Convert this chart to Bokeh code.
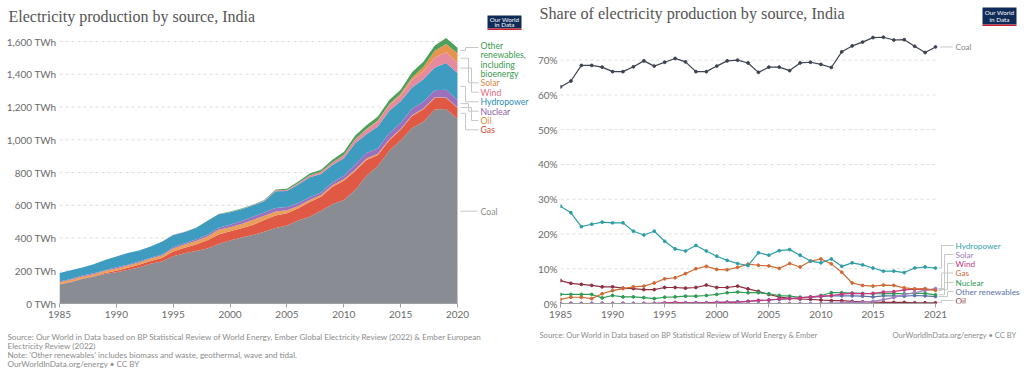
from bokeh.plotting import figure
from bokeh.models import (Range1d, FixedTicker, Label, LabelSet, Arrow,
                          ColumnDataSource, BoxAnnotation)
from bokeh.layouts import row, column
from bokeh.embed import file_html
from bokeh.resources import INLINE
from bokeh.core.properties import value

SANS = "Lato"
SERIF = "Liberation Serif"

# ---------------- Left chart data: electricity production (TWh) ----------------
years_left = list(range(1985, 2021))
coal_twh = [115.3, 129.3, 149.3, 163.0, 179.5, 190.1, 204.8, 220.6, 242.9, 256.1,
            288.0, 307.4, 321.1, 335.5, 362.8, 385.2, 403.4, 417.9, 438.0, 461.5,
            476.0, 506.6, 529.3, 566.1, 605.9, 631.6, 692.6, 779.7, 840.3, 932.5,
            995.3, 1071.6, 1109.7, 1184.0, 1187.7, 1127.8]
gas_twh = [2.2, 3.6, 3.9, 3.3, 7.4, 10.5, 13.2, 15.6, 17.4, 22.1,
           29.5, 32.3, 39.7, 50.3, 58.2, 55.3, 56.1, 62.1, 71.5, 76.3,
           75.6, 75.2, 90.9, 85.9, 106.5, 117.5, 116.3, 96.9, 66.9, 64.5,
           65.1, 74.1, 76.1, 70.2, 67.4, 67.2]
oil_twh = [12.2, 11.7, 12.0, 12.4, 12.7, 13.7, 13.5, 13.9, 13.9, 15.0,
           19.1, 20.1, 20.3, 23.1, 28.8, 25.9, 26.6, 29.9, 26.6, 24.3,
           18.2, 14.2, 11.9, 10.6, 10.5, 9.2, 8.2, 8.6, 6.8, 6.2,
           5.2, 4.2, 4.4, 4.7, 3.2, 3.1]
nuclear_twh = [4.8, 5.3, 5.7, 6.2, 4.2, 6.6, 5.8, 6.2, 5.9, 5.3,
               7.5, 8.3, 9.7, 10.6, 12.5, 14.7, 17.9, 19.7, 19.6, 21.5,
               19.6, 17.1, 16.6, 14.7, 15.7, 21.1, 31.6, 33.4, 34.0, 36.0,
               36.4, 39.2, 42.5, 43.7, 46.5, 45.3]
hydro_twh = [51.8, 52.7, 48.2, 54.3, 61.8, 66.1, 71.2, 67.4, 68.6, 78.0,
             74.3, 68.5, 69.8, 84.0, 82.1, 76.7, 71.7, 68.7, 69.0, 101.3,
             97.3, 113.2, 122.5, 113.7, 106.5, 107.4, 130.6, 115.2, 132.7, 137.6,
             132.7, 130.1, 136.2, 138.8, 163.7, 164.0]
wind_twh = [0, 0, 0, 0, 0, 0, 0, 0, 0.1, 0.2,
            0.8, 1.3, 0.9, 1.0, 1.1, 1.7, 1.7, 1.8, 3.8, 6.2,
            7.0, 9.7, 11.1, 13.1, 16.6, 19.3, 23.5, 29.1, 32.9, 34.7,
            37.7, 46.2, 49.8, 60.8, 65.8, 60.9]
solar_twh = [0, 0, 0, 0, 0, 0, 0, 0, 0, 0,
             0, 0, 0, 0, 0, 0, 0, 0, 0, 0,
             0, 0, 0, 0, 0, 0.1, 1.0, 2.2, 3.4, 5.0,
             7.8, 15.4, 24.9, 40.6, 49.8, 59.4]
other_twh = [0, 0, 0, 0, 0, 0, 0, 0, 0, 0,
             0.4, 0.4, 0.7, 1.0, 1.1, 1.7, 2.3, 3.0, 3.8, 5.6,
             7.0, 8.9, 11.1, 13.1, 15.7, 18.4, 22.4, 23.7, 24.9, 26.0,
             24.7, 30.8, 32.2, 32.8, 36.9, 34.4]
left_names = ["Coal", "Gas", "Oil", "Nuclear", "Hydropower", "Wind", "Solar", "Other renewables"]
left_values = [coal_twh, gas_twh, oil_twh, nuclear_twh, hydro_twh, wind_twh, solar_twh, other_twh]
left_colors = ["#8a8c93", "#df5944", "#e8a05a", "#9b70bd", "#3e9cc1", "#e68b9d", "#e8944f", "#4ea05d"]
left_text_colors = {"Coal": "#8a8a8a", "Gas": "#d8462f", "Oil": "#d98a3c", "Nuclear": "#8a5aa9",
                    "Hydropower": "#2c8db4", "Wind": "#e06a82", "Solar": "#d9873c",
                    "Other renewables": "#3a9a4e"}
left_yticks = [0, 200, 400, 600, 800, 1000, 1200, 1400, 1600]
left_ytick_labels = ["0 TWh", "200 TWh", "400 TWh", "600 TWh", "800 TWh",
                     "1,000 TWh", "1,200 TWh", "1,400 TWh", "1,600 TWh"]
left_xticks = [1985, 1990, 1995, 2000, 2005, 2010, 2015, 2020]

# ---------------- Right chart data: share of electricity production (%) ----------------
years_right = list(range(1985, 2022))
coal_pct = [62.3, 64.0, 68.5, 68.5, 68.0, 66.7, 66.7, 68.1, 69.8, 68.3,
            69.4, 70.5, 69.5, 66.7, 66.7, 68.3, 69.8, 70.0, 69.2, 66.5,
            68.0, 68.0, 67.0, 69.2, 69.4, 68.8, 67.9, 72.4, 74.1, 75.2,
            76.5, 76.6, 75.8, 75.9, 74.0, 72.2, 73.8]
hydro_pct = [28.0, 26.1, 22.1, 22.8, 23.4, 23.2, 23.2, 20.8, 19.7, 20.8,
             17.9, 15.7, 15.1, 16.7, 15.1, 13.6, 12.4, 11.5, 10.9, 14.6,
             13.9, 15.2, 15.5, 13.9, 12.2, 11.7, 12.8, 10.7, 11.7, 11.1,
             10.2, 9.3, 9.3, 8.9, 10.2, 10.5, 10.2]
gas_pct = [1.2, 1.8, 1.8, 1.4, 2.8, 3.7, 4.3, 4.8, 5.0, 5.9,
           7.1, 7.4, 8.6, 10.0, 10.7, 9.8, 9.7, 10.4, 11.3, 11.0,
           10.8, 10.1, 11.5, 10.5, 12.2, 12.8, 11.4, 9.0, 5.9, 5.2,
           5.0, 5.3, 5.2, 4.5, 4.2, 4.3, 3.8]
oil_pct = [6.6, 5.8, 5.5, 5.2, 4.8, 4.8, 4.4, 4.3, 4.0, 4.0,
           4.6, 4.6, 4.4, 4.6, 5.3, 4.6, 4.6, 5.0, 4.2, 3.5,
           2.6, 1.9, 1.5, 1.3, 1.2, 1.0, 0.8, 0.8, 0.6, 0.5,
           0.4, 0.3, 0.3, 0.3, 0.2, 0.2, 0.2]
nuclear_pct = [2.6, 2.6, 2.6, 2.6, 1.6, 2.3, 1.9, 1.9, 1.7, 1.4,
               1.8, 1.9, 2.1, 2.1, 2.3, 2.6, 3.1, 3.3, 3.1, 3.1,
               2.8, 2.3, 2.1, 1.8, 1.8, 2.3, 3.1, 3.1, 3.0, 2.9,
               2.8, 2.8, 2.9, 2.8, 2.9, 2.9, 2.5]
wind_pct = [0, 0, 0, 0, 0, 0, 0, 0, 0.02, 0.05,
            0.2, 0.3, 0.2, 0.2, 0.2, 0.3, 0.3, 0.3, 0.6, 0.9,
            1.0, 1.3, 1.4, 1.6, 1.9, 2.1, 2.3, 2.7, 2.9, 2.8,
            2.9, 3.3, 3.4, 3.9, 4.1, 3.9, 4.0]
solar_pct = [0, 0, 0, 0, 0, 0, 0, 0, 0, 0,
             0, 0, 0, 0, 0, 0, 0, 0, 0, 0,
             0, 0, 0, 0, 0, 0.01, 0.1, 0.2, 0.3, 0.4,
             0.6, 1.1, 1.7, 2.6, 3.1, 3.8, 4.3]
other_pct = [0, 0, 0, 0, 0, 0, 0, 0, 0, 0,
             0.1, 0.1, 0.15, 0.2, 0.2, 0.3, 0.4, 0.5, 0.6, 0.8,
             1.0, 1.2, 1.4, 1.6, 1.8, 2.0, 2.2, 2.2, 2.2, 2.1,
             1.9, 2.2, 2.2, 2.1, 2.3, 2.2, 2.0]
right_names = ["Oil", "Other renewables", "Nuclear", "Wind", "Solar", "Gas", "Hydropower", "Coal"]
right_values = [oil_pct, other_pct, nuclear_pct, wind_pct, solar_pct, gas_pct, hydro_pct, coal_pct]
right_colors = {"Coal": "#3d4352", "Hydropower": "#2e9fa6", "Solar": "#a07cc2", "Wind": "#c9357f",
                "Gas": "#d06b35", "Nuclear": "#2f9c56", "Other renewables": "#5b73a8", "Oil": "#8e3042"}
right_yticks = [0, 10, 20, 30, 40, 50, 60, 70]
right_ytick_labels = ["0%", "10%", "20%", "30%", "40%", "50%", "60%", "70%"]
right_xticks = [1985, 1990, 1995, 2000, 2005, 2010, 2015, 2021]

# ---------------- layout geometry (page pixels; Bokeh's page has no body margin) ----------------
PAGE = 0
TOTAL_W = 1024
HEAD_B = 33          # bottom of header strip / top of plot frames
FOOT_T = 326         # top of footer strip
PAGE_B = 377
L_W = 530
R_LEFT = PAGE + L_W
R_W = TOTAL_W - L_W
L_FL, L_DR, L_FB = 59, 457, 303
L_PXU = 262.0 / 1600          # px per TWh
L_PXY = (L_DR - L_FL) / (years_left[-1] - years_left[0])
R_FL, R_DR, R_FB = 560, 935, 303
R_PXU = 3.476                 # px per percentage point
R_PXY = (R_DR - R_FL) / (years_right[-1] - years_right[0])


def lx(a):
    return years_left[0] + (a - L_FL) / L_PXY


def ly(a):
    return (L_FB - a) / L_PXU


def rx(a):
    return years_right[0] + (a - R_FL) / R_PXY


def ry(a):
    return (R_FB - a) / R_PXU


def style_axes(p, xticks, yticks, ylabels, xb):
    p.outline_line_color = None
    p.background_fill_color = "white"
    p.border_fill_color = "white"
    p.grid.grid_line_color = None
    p.xaxis.ticker = FixedTicker(ticks=xticks)
    p.xaxis.bounds = xb
    p.yaxis.ticker = FixedTicker(ticks=yticks)
    p.yaxis.major_label_overrides = dict(zip(yticks, ylabels))
    p.yaxis.axis_line_color = None
    p.yaxis.major_tick_line_color = None
    p.yaxis.minor_tick_line_color = None
    p.yaxis.major_tick_out = 0
    p.yaxis.major_tick_in = 0
    p.yaxis.minor_tick_out = 0
    p.yaxis.major_label_standoff = 3
    p.xaxis.axis_line_color = "#a0a0a0"
    p.xaxis.major_tick_line_color = "#a0a0a0"
    p.xaxis.major_tick_out = 4
    p.xaxis.major_tick_in = 0
    p.xaxis.minor_tick_out = 0
    p.xaxis.minor_tick_line_color = None
    p.xaxis.major_label_standoff = 3
    for ax in (p.xaxis[0], p.yaxis[0]):
        ax.major_label_text_font = SANS
        ax.major_label_text_font_size = "10px"
        ax.major_label_text_color = "#6b6b6b"
    n = len(yticks)
    p.segment(x0=[xb[0]] * n, y0=yticks, x1=[xb[1]] * n, y1=yticks,
              line_color="#dddddd", line_dash="3 3", line_width=1)


def add_text(p, x, y, text, size, color, font=SANS, align="left"):
    p.add_layout(Label(x=x, y=y, text=text, text_font=font, text_font_size=size,
                       text_color=color, text_align=align, text_baseline="middle"))


def strip(height, top):
    s = figure(width=TOTAL_W, height=height, x_range=Range1d(PAGE, PAGE + TOTAL_W),
               y_range=Range1d(top + height, top), x_axis_type=None, y_axis_type=None,
               min_border=0, output_backend="svg", toolbar_location=None)
    s.outline_line_color = None
    s.grid.grid_line_color = None
    return s


def add_logo(s, x0, x1, y0, y1):
    s.add_layout(BoxAnnotation(left=x0, right=x1, top=y0, bottom=y1,
                               fill_color="#102b57", fill_alpha=1, line_color=None))
    s.add_layout(BoxAnnotation(left=x0, right=x1, top=y1, bottom=y1 + 1.5,
                               fill_color="#c8202f", fill_alpha=1, line_color=None))
    cx = (x0 + x1) / 2
    h = y1 - y0
    add_text(s, cx, y0 + h * 0.3, "Our World", "6.3px", "white", align="center")
    add_text(s, cx, y0 + h * 0.72, "in Data", "6.3px", "white", align="center")


# ================= HEADER =================
head = strip(HEAD_B - PAGE, PAGE)
add_text(head, 8, 15.5, "Electricity production by source, India", "16px", "#555555", font=SERIF)
add_logo(head, 487, 521, 15, 28)
add_text(head, 539, 13.5, "Share of electricity production by source, India", "16.2px", "#555555", font=SERIF)
add_logo(head, 982, 1016, 7, 24)

# ================= LEFT FIGURE =================
p1 = figure(frame_width=R_LEFT - L_FL, frame_height=L_FB - HEAD_B,
            min_border_left=L_FL - PAGE, min_border_right=0, min_border_top=0,
            min_border_bottom=FOOT_T - L_FB,
            x_range=Range1d(years_left[0], lx(R_LEFT)), y_range=Range1d(0, ly(HEAD_B)),
            output_backend="svg", toolbar_location=None)
style_axes(p1, left_xticks, left_yticks, left_ytick_labels, (years_left[0], years_left[-1]))
src_l = ColumnDataSource(dict(year=years_left, **dict(zip(left_names, left_values))))
p1.varea_stack(stackers=left_names, x="year", color=left_colors, source=src_l)

ends_l = {}
cum = 0.0
for n, v in zip(left_names, left_values):
    ends_l[n] = cum + v[-1] / 2.0
    cum += v[-1]
lab_l = [("Other renewables", 47), ("Solar", 82.3), ("Wind", 91.7), ("Hydropower", 101.3),
         ("Nuclear", 110.7), ("Oil", 120), ("Gas", 129.3)]
LBL_X = 480
xs0, ys0, xs1, ys1 = [], [], [], []
for i, (n, py) in enumerate(lab_l):
    bend = 465 + (i % 3) * 3
    yd = ends_l[n]
    xs0 += [lx(L_DR + 3), lx(bend), lx(bend)]
    ys0 += [yd, yd, ly(py)]
    xs1 += [lx(bend), lx(bend), lx(LBL_X - 2)]
    ys1 += [yd, ly(py), ly(py)]
xs0.append(lx(L_DR + 3)); ys0.append(ends_l["Coal"])
xs1.append(lx(LBL_X - 3)); ys1.append(ends_l["Coal"])
p1.add_layout(Arrow(end=None, source=ColumnDataSource(dict(x0=xs0, y0=ys0, x1=xs1, y1=ys1)),
                    x_start="x0", y_start="y0", x_end="x1", y_end="y1",
                    line_color="#c8c8c8", line_width=1))
txt, tx, ty, tc = [], [], [], []
for n, py in lab_l:
    if n == "Other renewables":
        lines = ["Other", "renewables,", "including", "bioenergy"]
        py = 45
    else:
        lines = [n]
    for k, t in enumerate(lines):
        txt.append(t); tx.append(lx(LBL_X)); ty.append(ly(py + k * 9.3)); tc.append(left_text_colors[n])
txt.append("Coal"); tx.append(lx(LBL_X)); ty.append(ends_l["Coal"]); tc.append(left_text_colors["Coal"])
p1.add_layout(LabelSet(x="x", y="y", text="t", text_color="c",
                       source=ColumnDataSource(dict(x=tx, y=ty, t=txt, c=tc)),
                       text_font=value(SANS), text_font_size=value("8.7px"), text_baseline="middle"))

# ================= RIGHT FIGURE =================
p2 = figure(frame_width=PAGE + TOTAL_W - R_FL, frame_height=R_FB - HEAD_B,
            min_border_left=R_FL - R_LEFT, min_border_right=0, min_border_top=0,
            min_border_bottom=FOOT_T - R_FB,
            x_range=Range1d(years_right[0], rx(PAGE + TOTAL_W)), y_range=Range1d(0, ry(HEAD_B)),
            output_backend="svg", toolbar_location=None)
style_axes(p2, right_xticks, right_yticks, right_ytick_labels, (years_right[0], years_right[-1]))
src_r = ColumnDataSource(dict(year=years_right, **dict(zip(right_names, right_values))))
for n in right_names:
    p2.line("year", n, source=src_r, line_color=right_colors[n], line_width=1.2)
    p2.scatter("year", n, source=src_r, size=2.8, color=right_colors[n])

lab_r = [("Hydropower", 245), ("Solar", 254), ("Wind", 263), ("Gas", 272.5),
         ("Nuclear", 282), ("Other renewables", 291), ("Oil", 300)]
ends_r = {n: v[-1] for n, v in zip(right_names, right_values)}
RLBL_X = 955
xs0, ys0, xs1, ys1 = [], [], [], []
for i, (n, py) in enumerate(lab_r):
    bend = 941 + (i % 3) * 3
    yd = ends_r[n]
    xs0 += [rx(R_DR + 3), rx(bend), rx(bend)]
    ys0 += [yd, yd, ry(py)]
    xs1 += [rx(bend), rx(bend), rx(RLBL_X - 2)]
    ys1 += [yd, ry(py), ry(py)]
xs0.append(rx(R_DR + 4)); ys0.append(ends_r["Coal"])
xs1.append(rx(RLBL_X - 3)); ys1.append(ends_r["Coal"])
p2.add_layout(Arrow(end=None, source=ColumnDataSource(dict(x0=xs0, y0=ys0, x1=xs1, y1=ys1)),
                    x_start="x0", y_start="y0", x_end="x1", y_end="y1",
                    line_color="#c8c8c8", line_width=1))
txt = [n for n, _ in lab_r] + ["Coal"]
tx = [rx(RLBL_X)] * len(txt)
ty = [ry(py) for _, py in lab_r] + [ends_r["Coal"]]
tc = [right_colors[n] for n, _ in lab_r] + ["#8a8a8a"]
p2.add_layout(LabelSet(x="x", y="y", text="t", text_color="c",
                       source=ColumnDataSource(dict(x=tx, y=ty, t=txt, c=tc)),
                       text_font=value(SANS), text_font_size=value("8.2px"), text_baseline="middle"))

# ================= FOOTER =================
foot = strip(PAGE_B - FOOT_T, FOOT_T)
foot_l = ["Source: Our World in Data based on BP Statistical Review of World Energy, Ember Global Electricity Review (2022) & Ember European",
          "Electricity Review (2022)",
          "Note: 'Other renewables' includes biomass and waste, geothermal, wave and tidal.",
          "OurWorldInData.org/energy \u2022 CC BY"]
for k, t in enumerate(foot_l):
    add_text(foot, 7, 336 + 9 * k, t, "8.1px", "#8c8c8c")
add_text(foot, 539, 334, "Source: Our World in Data based on BP Statistical Review of World Energy & Ember",
         "7.6px", "#8c8c8c")
add_text(foot, 1016, 334, "OurWorldInData.org/energy \u2022 CC BY", "7.6px", "#8c8c8c", align="right")

layout = column(head, row(p1, p2), foot)
open("out.html", "w").write(file_html(layout, INLINE))
